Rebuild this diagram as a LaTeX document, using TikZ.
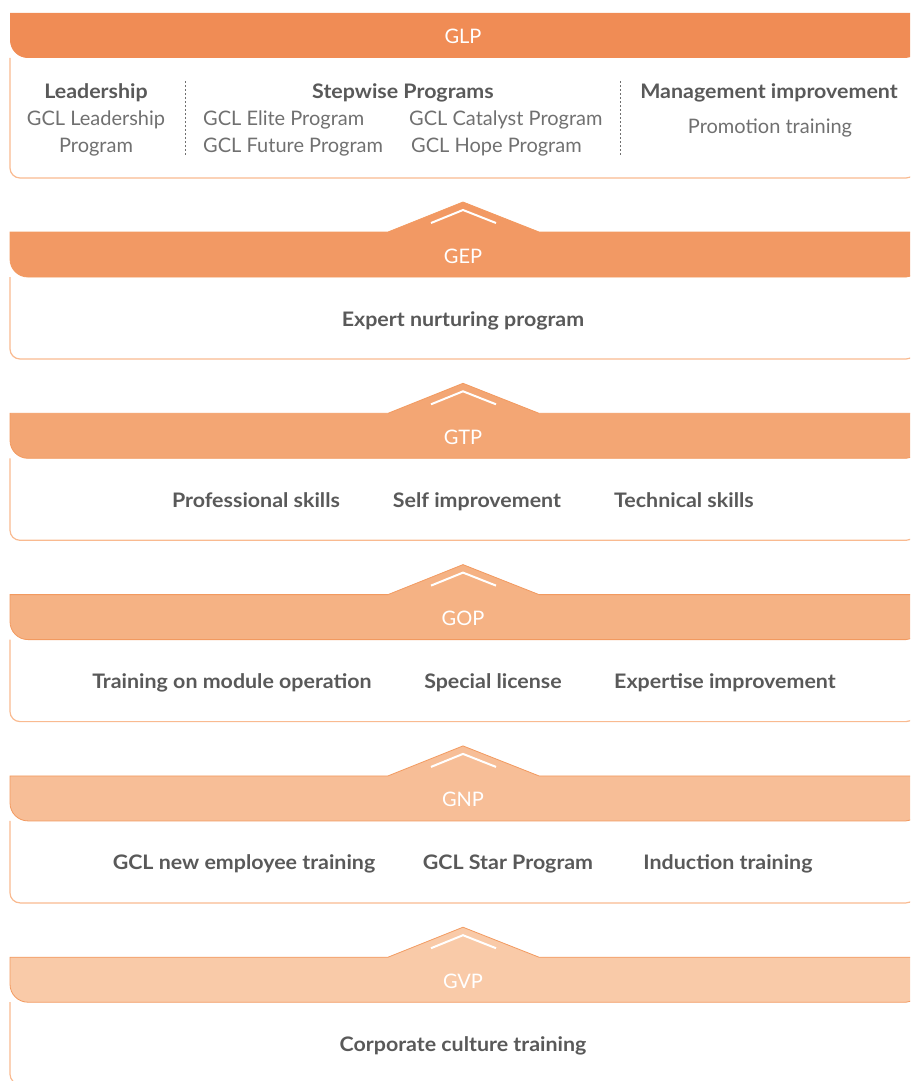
\documentclass[tikz,border=0pt]{standalone}
\usepackage{fontspec}
\setmainfont{Lato}[BoldFeatures={FakeStretch=1.07}]
\definecolor{cGLP}{HTML}{F08C55}
\definecolor{cGEP}{HTML}{F29964}
\definecolor{cGTP}{HTML}{F3A674}
\definecolor{cGOP}{HTML}{F5B284}
\definecolor{cGNP}{HTML}{F7BE97}
\definecolor{cGVP}{HTML}{F9CAA8}
\definecolor{edgec}{HTML}{F29A60}
\definecolor{boxc}{HTML}{F9BA90}
\definecolor{tdark}{HTML}{595959}
\definecolor{tgray}{HTML}{707070}
\tikzset{
  hdrlabel/.style={text=white, font=\fontsize{20}{24}\selectfont, inner sep=0pt, anchor=base},
  boldtxt/.style={text=tdark, font=\fontsize{20}{24}\selectfont\bfseries, inner sep=0pt, anchor=base},
  regtxt/.style={text=tgray, font=\fontsize{20}{24}\selectfont, inner sep=0pt, anchor=base},
  boxline/.style={draw=boxc, line width=1.2pt},
  hdredge/.style={draw=edgec, line width=0.8pt},
  sepline/.style={draw=tgray, line width=0.8pt, dash pattern=on 2pt off 2pt},
  chev/.style={draw=white, line width=2pt}
}
% #1 = top y of header, #2 = colour
\newcommand\tierhead[2]{%
  \path[fill=#2, hdredge] (10,#1) -- (388,#1) -- (463,#1-30) -- (539,#1) -- (916,#1)
     -- (916,#1+35) .. controls (916,#1+40.5) and (911.5,#1+45) .. (906,#1+45)
     -- (28,#1+45) .. controls (18,#1+45) and (10,#1+37) .. (10,#1+27) -- cycle;
  \draw[chev] (431,#1-9) -- (463,#1-22) -- (496,#1-9);
}
% #1 = top of box (header bottom), #2 = bottom
\newcommand\tierbox[2]{%
  \draw[boxline] (10,#1) -- (10,#2-10) .. controls (10,#2-4.5) and (14.5,#2) .. (20,#2)
     -- (906,#2) .. controls (911.5,#2) and (916,#2-4.5) .. (916,#2-10);
}
\begin{document}
\begin{tikzpicture}[x=1pt,y=-1pt]
\useasboundingbox (0,0) rectangle (910,1081);
\clip (0,0) rectangle (910,1081);
% ---------- GLP ----------
\path[fill=cGLP] (10,13) -- (916,13) -- (916,48) .. controls (916,53.5) and (911.5,58) .. (906,58)
   -- (28,58) .. controls (18,58) and (10,50) .. (10,40) -- cycle;
\node[hdrlabel] (glp) at (463,43.5) {GLP};
\tierbox{58}{178}
\node[boldtxt] (lead) at (96,99) {Leadership};
\node[regtxt] (lead1) at (96,125) {GCL Leadership};
\node[regtxt] (lead2) at (96,152) {Program};
\coordinate (s1a) at (185,81); \coordinate (s1b) at (185,155);
\draw[sepline] (s1a) -- (s1b);
\node[boldtxt] (step) at (403,99) {Stepwise Programs};
\node[regtxt, anchor=base west] (elite) at (203,125) {GCL Elite Program};
\node[regtxt, anchor=base west] (future) at (203,152) {GCL Future Program};
\node[regtxt, anchor=base west] (catal) at (409,125) {GCL Catalyst Program};
\node[regtxt, anchor=base west] (hope) at (411,152) {GCL Hope Program};
\coordinate (s2a) at (620,81); \coordinate (s2b) at (620,155);
\draw[sepline] (s2a) -- (s2b);
\node[boldtxt] (mgmt) at (769,99) {Management improvement};
\node[regtxt] (promo) at (770,133) {Promotion training};
% ---------- GEP ----------
\tierhead{232}{cGEP}
\node[hdrlabel] (gep) at (463,263) {GEP};
\tierbox{277}{359}
\node[boldtxt] (expert) at (463,326) {Expert nurturing program};
% ---------- GTP ----------
\tierhead{413.3}{cGTP}
\node[hdrlabel] (gtp) at (463,444.3) {GTP};
\tierbox{458.3}{540.3}
\node[boldtxt] (prof) at (256,507.3) {Professional skills};
\node[boldtxt] (self) at (477,507.3) {Self improvement};
\node[boldtxt] (tech) at (684,507.3) {Technical skills};
% ---------- GOP ----------
\tierhead{594.6}{cGOP}
\node[hdrlabel] (gop) at (463,625.6) {GOP};
\tierbox{639.6}{721.6}
\node[boldtxt] (module) at (232,688.6) {Training on module operation};
\node[boldtxt] (lic) at (493,688.6) {Special license};
\node[boldtxt] (expt) at (725,688.6) {Expertise improvement};
% ---------- GNP ----------
\tierhead{775.9}{cGNP}
\node[hdrlabel] (gnp) at (463,806.9) {GNP};
\tierbox{820.9}{902.9}
\node[boldtxt] (newemp) at (244,869.9) {GCL new employee training};
\node[boldtxt] (star) at (508,869.9) {GCL Star Program};
\node[boldtxt] (induct) at (728,869.9) {Induction training};
% ---------- GVP ----------
\tierhead{957.2}{cGVP}
\node[hdrlabel] (gvp) at (463,988.2) {GVP};
\tierbox{1002.2}{1084.2}
\node[boldtxt] (culture) at (463,1051.2) {Corporate culture training};
\end{tikzpicture}
\end{document}
